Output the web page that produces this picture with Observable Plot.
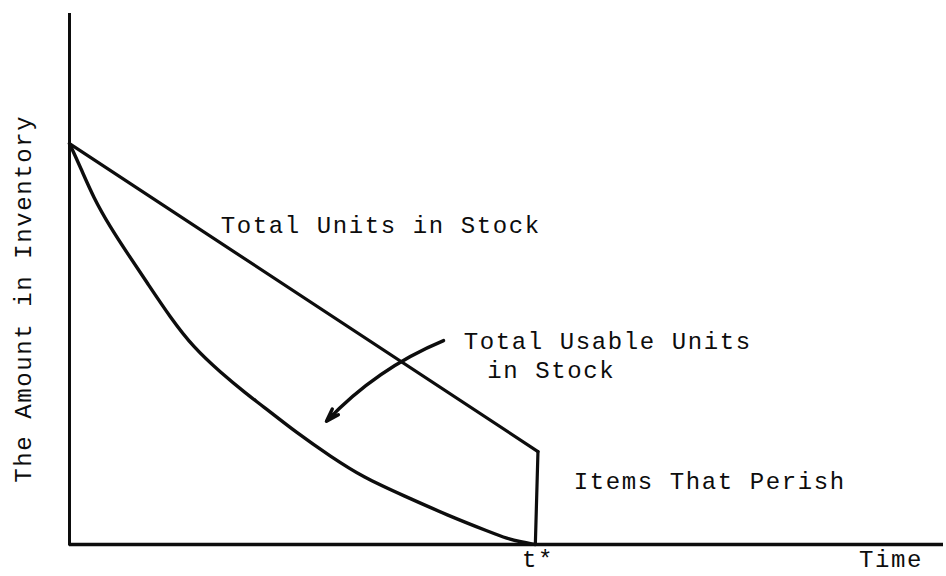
<!DOCTYPE html>
<html>
<head>
<meta charset="utf-8">
<script src="https://cdn.jsdelivr.net/npm/d3@7"></script>
<script src="https://cdn.jsdelivr.net/npm/@observablehq/plot@0.6"></script>
<style>
  html, body { margin: 0; padding: 0; background: #fff; }
</style>
</head>
<body>
<div id="chart"></div>
<script>
// Inventory of a perishable item over one cycle (time and amount in % of axis range)
const tStar = 53.6;            // the moment the usable stock runs out
const startAmount = 75.5;      // amount received at the start of the cycle

// Total units in stock: a straight decline until t*
const totalStock = [
  {time: 0, amount: startAmount},
  {time: tStar, amount: 17.5}
];

// Units that perish at t* (the remaining stock drops to zero)
const perished = [
  {time: tStar, amount: 17.5},
  {time: tStar - 0.3, amount: 0}
];

// Total usable units in stock: a convex decay reaching zero at t*
const usableTime   = [0, 1.26, 2.75, 4.69, 6.64, 8.92, 11.56, 14.19, 17.28, 20.37, 21.85, 26.09, 29.86, 33.64, 38.22, 43.25, 48.17, 50.11, 51.6, 53.3];
const usableAmount = [startAmount, 71.0, 65.3, 59.7, 54.8, 49.2, 42.7, 37.1, 32.4, 28.2, 26.4, 20.9, 16.6, 12.6, 9.2, 5.5, 2.3, 1.1, 0.5, 0];
const usable = usableTime.map((t, i) => ({time: t, amount: usableAmount[i]}));

// Curved pointer from the label to the usable-units curve
const pointer = [{x1: 42.8, y1: 38.4, x2: 29.4, y2: 23.2}];

// Annotations
const labelText = ["Total Units in Stock", "Total Usable Units", "in Stock", "Items That Perish"];
const labelTime = [17.3, 45.1, 47.8, 57.7];
const labelAmount = [58.6, 36.9, 31.3, 10.5];
const labels = labelText.map((s, i) => ({text: s, time: labelTime[i], amount: labelAmount[i]}));

const xTickText = ["t*", "Time"];
const xTickTime = [tStar, 94.0];
const xTicks = xTickText.map((s, i) => ({text: s, time: xTickTime[i]}));

const yTitle = "The Amount in Inventory";

const ink = "#0d0d0d";
const font = "'Liberation Mono', 'DejaVu Sans Mono', monospace";

const chart = Plot.plot({
  width: 946,
  height: 576,
  marginLeft: 69,
  marginRight: 3,
  marginTop: 13,
  marginBottom: 32,
  x: {domain: [0, 100], axis: null},
  y: {domain: [0, 100], axis: null},
  style: {fontFamily: font, letterSpacing: "1.6px", background: "#fff", color: ink},
  marks: [
    // axes drawn as plain rules, no ticks
    Plot.ruleX([0], {y1: -0.3, y2: 100, stroke: ink, strokeWidth: 3}),
    Plot.ruleY([0], {x1: 0, x2: 100, stroke: ink, strokeWidth: 3.5}),
    Plot.line(totalStock, {x: "time", y: "amount", stroke: ink, strokeWidth: 3.2}),
    Plot.line(perished, {x: "time", y: "amount", stroke: ink, strokeWidth: 3.2}),
    Plot.line(usable, {x: "time", y: "amount", stroke: ink, strokeWidth: 3.4, curve: "basis"}),
    Plot.arrow(pointer, {
      x1: "x1", y1: "y1", x2: "x2", y2: "y2",
      bend: -12, stroke: ink, strokeWidth: 3.4, headLength: 6, headAngle: 36
    }),
    Plot.text(labels, {
      x: "time", y: "amount", text: "text",
      textAnchor: "start", lineAnchor: "bottom", fontSize: 24, fill: ink
    }),
    Plot.text(xTicks, {
      x: "time", y: -4.3, text: "text",
      textAnchor: "middle", lineAnchor: "bottom", fontSize: 24, fill: ink
    }),
    Plot.text([yTitle], {
      x: -5.3, y: 46.3, text: d => d, rotate: -90,
      textAnchor: "middle", lineAnchor: "middle", fontSize: 24, fill: ink
    })
  ]
});

document.getElementById("chart").append(chart);
</script>
</body>
</html>
